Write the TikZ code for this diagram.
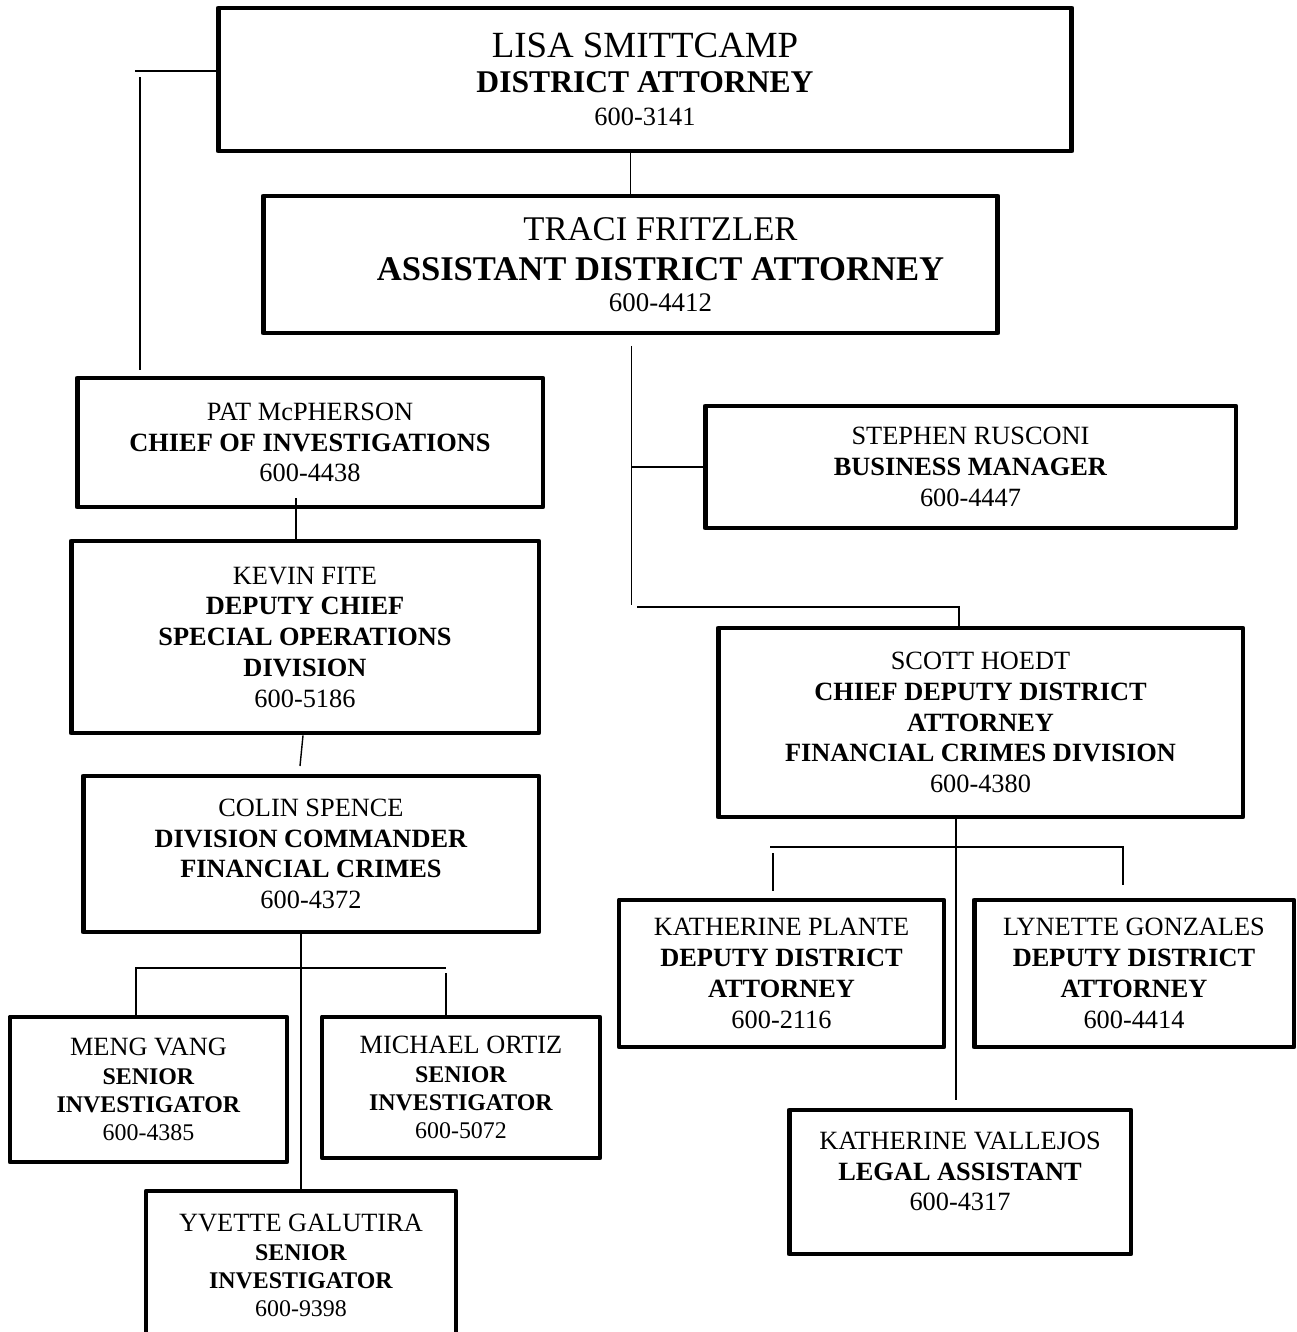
\documentclass[tikz,border=0pt]{standalone}
\usepackage{fontspec}
\setmainfont{Liberation Serif}
\begin{document}
\begin{tikzpicture}[x=0.02cm,y=-0.02cm,
  post/.style={draw,line width=2.8pt,line join=round,align=center,inner sep=0pt,font=\fontsize{15pt}{17.5pt}\selectfont},
  small/.style={post,font=\fontsize{13.6pt}{16pt}\selectfont},
  wire/.style={line width=0.8pt}]
\useasboundingbox (0,0) rectangle (1296,1332);
\node[post,minimum width=17.08cm,minimum height=2.86cm,font=\fontsize{15pt}{19.3pt}\selectfont] (lisa) at (645,79.5)
  {{\fontsize{21pt}{21pt}\selectfont LISA SMITTCAMP}\\[0.7pt]{\fontsize{18pt}{18pt}\selectfont\bfseries DISTRICT ATTORNEY}\\[-0.6pt]600-3141};
\node[post,minimum width=14.7cm,minimum height=2.74cm,font=\fontsize{15.3pt}{22.7pt}\selectfont] (traci) at (630.5,264.5)
  {\hspace*{1.2cm}{\fontsize{19.7pt}{19.7pt}\selectfont TRACI FRITZLER}\\\hspace*{1.2cm}{\fontsize{19.7pt}{19.7pt}\selectfont\bfseries ASSISTANT DISTRICT ATTORNEY}\\[-4.8pt]\hspace*{1.2cm}600-4412};
\node[post,minimum width=9.32cm,minimum height=2.58cm] (pat) at (310,442.5)
  {PAT McPHERSON\\\textbf{CHIEF OF INVESTIGATIONS}\\600-4438};
\node[post,minimum width=10.62cm,minimum height=2.44cm] (rusconi) at (970.5,467)
  {STEPHEN RUSCONI\\\textbf{BUSINESS MANAGER}\\600-4447};
\node[post,minimum width=9.36cm,minimum height=3.84cm] (kevin) at (305,637)
  {KEVIN FITE\\\textbf{DEPUTY CHIEF}\\\textbf{SPECIAL OPERATIONS}\\\textbf{DIVISION}\\600-5186};
\node[post,minimum width=10.5cm,minimum height=3.78cm] (scott) at (980.5,722.5)
  {SCOTT HOEDT\\\textbf{CHIEF DEPUTY DISTRICT}\\\textbf{ATTORNEY}\\\textbf{FINANCIAL CRIMES DIVISION}\\600-4380};
\node[post,minimum width=9.12cm,minimum height=3.12cm] (colin) at (311,854)
  {COLIN SPENCE\\\textbf{DIVISION COMMANDER}\\\textbf{FINANCIAL CRIMES}\\600-4372};
\node[post,minimum width=6.5cm,minimum height=2.94cm] (plante) at (781.5,973.5)
  {KATHERINE PLANTE\\\textbf{DEPUTY DISTRICT}\\\textbf{ATTORNEY}\\600-2116};
\node[post,minimum width=6.4cm,minimum height=2.94cm] (lynette) at (1134,973.5)
  {LYNETTE GONZALES\\\textbf{DEPUTY DISTRICT}\\\textbf{ATTORNEY}\\600-4414};
\node[small,minimum width=5.54cm,minimum height=2.9cm] (meng) at (148.5,1089.5)
  {{\fontsize{15pt}{15pt}\selectfont MENG VANG}\\\textbf{SENIOR}\\\textbf{INVESTIGATOR}\\600-4385};
\node[small,minimum width=5.56cm,minimum height=2.82cm] (ortiz) at (461,1087.5)
  {{\fontsize{15pt}{15pt}\selectfont MICHAEL ORTIZ}\\\textbf{SENIOR}\\\textbf{INVESTIGATOR}\\600-5072};
\node[post,minimum width=6.84cm,minimum height=2.88cm] (vallejos) at (960,1182)
  {KATHERINE VALLEJOS\\\textbf{LEGAL ASSISTANT}\\600-4317\rule[-12pt]{0pt}{12pt}};
\node[small,minimum width=6.2cm,minimum height=2.98cm] (yvette) at (301,1265.5)
  {{\fontsize{15pt}{15pt}\selectfont YVETTE GALUTIRA}\\\textbf{SENIOR}\\\textbf{INVESTIGATOR}\\600-9398};
\coordinate (hookL) at (135,71);
\coordinate (hookT) at (140,77);
\coordinate (spineB) at (631.5,605);
\coordinate (barS) at (637,607);
\coordinate (kneeS) at (959,607);
\coordinate (pk) at (296,498);
\coordinate (kc) at (303,735);
\coordinate (kc2) at (300,766);
\coordinate (barCL) at (136,968);
\coordinate (barCR) at (446,968);
\coordinate (barHL) at (770,847);
\coordinate (barHR) at (1123,847);
\coordinate (dropL) at (773,853);
\coordinate (dropV) at (956,1100);
\draw[wire] (hookL -| lisa.west) -- (hookL);
\draw[wire,shorten >=3pt] (hookT) -- (hookT |- pat.north);
\draw[wire] (lisa.south -| traci.north) -- (traci.north);
\draw[wire,shorten <=6pt] (traci.south -| spineB) -- (spineB);
\draw[wire] (rusconi.west -| spineB) -- (rusconi.west);
\draw[wire] (barS) -- (kneeS) -- (kneeS |- scott.north);
\draw[wire] (pk) -- (pk |- kevin.north);
\draw[wire] (kevin.south -| kc) -- (kc2);
\draw[wire] (colin.south -| yvette.north) -- (yvette.north);
\draw[wire] (barCL |- meng.north) -- (barCL) -- (barCR);
\draw[wire,shorten <=3pt] (barCR) -- (barCR |- ortiz.north);
\draw[wire,shorten >=7pt] (barHL) -- (barHR) -- (barHR |- lynette.north);
\draw[wire,shorten >=4pt] (dropL) -- (dropL |- plante.north);
\draw[wire] (scott.south -| dropV) -- (dropV);
\end{tikzpicture}
\end{document}
